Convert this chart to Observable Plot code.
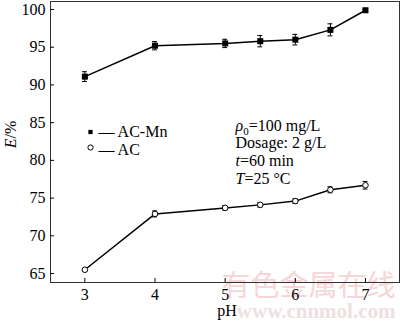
<!DOCTYPE html>
<html><head><meta charset="utf-8">
<script src="https://cdn.jsdelivr.net/npm/d3@7"></script>
<script src="https://cdn.jsdelivr.net/npm/@observablehq/plot@0.6"></script>
<style>body{margin:0;background:#fff} #chart{width:400px;height:324px}</style>
</head><body><div id="chart"></div>
<script>
const ph = [3, 4, 5, 5.5, 6, 6.5, 7];
const eACMn = [91.1, 95.2, 95.5, 95.8, 96.0, 97.3, 99.9];
const errACMn = [0.65, 0.55, 0.55, 0.75, 0.7, 0.8, 0.1];
const eAC = [65.5, 72.9, 73.7, 74.1, 74.6, 76.1, 76.7];
const errAC = [0.15, 0.4, 0.3, 0.3, 0.3, 0.4, 0.5];
const xTicks = [3, 4, 5, 6, 7];
const yTicks = [65, 70, 75, 80, 85, 90, 95, 100];
const seriesNames = ["AC-Mn", "AC"];
const noteLines = [
  [["ρ", "italic"], ["0", "sub"], ["=100 mg/L", ""]],
  [["Dosage: 2 g/L", ""]],
  [["t", "italic"], ["=60 min", ""]],
  [["T", "italic"], ["=25 °C", ""]]
];
const yLabel = [["E", "italic"], ["/%", ""]];
const xLabel = "pH";
const watermark = ["有色金属在线", "www.cnnmol.com"];

const dMn = ph.map((p, i) => ({ph: p, e: eACMn[i], err: errACMn[i]}));
const dAC = ph.map((p, i) => ({ph: p, e: eAC[i], err: errAC[i]}));
const cap = 0.035;

function errMarks(data) {
  return [
    Plot.ruleX(data, {x: "ph", y1: d => d.e - d.err, y2: d => d.e + d.err, stroke: "#000", strokeWidth: 1}),
    Plot.ruleY(data, {y: d => d.e + d.err, x1: d => d.ph - cap, x2: d => d.ph + cap, stroke: "#000", strokeWidth: 1}),
    Plot.ruleY(data, {y: d => d.e - d.err, x1: d => d.ph - cap, x2: d => d.ph + cap, stroke: "#000", strokeWidth: 1})
  ];
}

const noteDy = [129, 146.5, 164.5, 182.5];
const font = "Liberation Serif";

const plot = Plot.plot({
  width: 400, height: 324,
  marginLeft: 50, marginRight: 1, marginTop: 1, marginBottom: 42,
  style: {fontFamily: "Liberation Serif, serif", fontSize: "16px", background: "#fff", color: "#000", overflow: "visible"},
  x: {domain: [2.51, 7.485], label: null},
  y: {domain: [63.81, 101.06], label: null},
  marks: [
    Plot.text([watermark[0]], {frameAnchor: "bottom-right", dx: -4, dy: 4, textAnchor: "end", lineAnchor: "middle",
      fill: "#f6d6d6", fontSize: 29, fontFamily: "Noto Sans CJK SC"}),
    Plot.text([watermark[1]], {frameAnchor: "bottom-right", dx: -4, dy: 35, textAnchor: "end", lineAnchor: "bottom",
      fill: "#eee0e0", fontSize: 21, fontFamily: font, fontWeight: "bold"}),
    Plot.frame({stroke: "#333", strokeWidth: 1}),
    Plot.axisX(xTicks, {anchor: "bottom", tickSize: -4, tickPadding: 10, fontSize: 16, fontFamily: font, stroke: "#000"}),
    Plot.axisY(yTicks, {anchor: "left", tickSize: -4, tickPadding: 9, fontSize: 16, fontFamily: font, stroke: "#000"}),
    Plot.text([xLabel], {frameAnchor: "bottom", dy: 33, lineAnchor: "bottom", fontSize: 16, fontFamily: font, dx: 2}),
    Plot.text([yLabel.map(s => s[0]).join("")], {frameAnchor: "top-left", dx: -40, dy: 133, rotate: -90,
      textAnchor: "middle", lineAnchor: "middle", fontSize: 16, fontFamily: font, className: "ylab"}),
    Plot.line(dMn, {x: "ph", y: "e", stroke: "#000", strokeWidth: 1.5}),
    Plot.line(dAC, {x: "ph", y: "e", stroke: "#000", strokeWidth: 1.5}),
    ...errMarks(dMn),
    ...errMarks(dAC),
    Plot.dot(dMn, {x: "ph", y: "e", symbol: "square", fill: "#000", r: 3.4}),
    Plot.dot(dAC, {x: "ph", y: "e", symbol: "circle", fill: "#fff", stroke: "#000", strokeWidth: 1, r: 2.8}),
    // legend
    Plot.dot([0], {frameAnchor: "top-left", dx: 40, dy: 130.5, symbol: "square", fill: "#000", r: 2.4}),
    Plot.dot([0], {frameAnchor: "top-left", dx: 40, dy: 146, symbol: "circle", fill: "#fff", stroke: "#000", strokeWidth: 1, r: 2.6}),
    Plot.text(["— " + seriesNames[0]], {frameAnchor: "top-left", dx: 48, dy: 135, textAnchor: "start", lineAnchor: "bottom", fontSize: 16, fontFamily: font}),
    Plot.text(["— " + seriesNames[1]], {frameAnchor: "top-left", dx: 48, dy: 153, textAnchor: "start", lineAnchor: "bottom", fontSize: 16, fontFamily: font}),
    ...noteLines.map((segs, i) => Plot.text([segs.map(s => s[0]).join("")], {
      frameAnchor: "top-left", dx: 185, dy: noteDy[i], textAnchor: "start", lineAnchor: "bottom",
      fontSize: 16, fontFamily: font, className: "note" + i}))
  ]
});

function richText(textSel, segs) {
  textSel.text(null);
  let shifted = 0;
  segs.forEach(([t, s]) => {
    const ts = textSel.append("tspan").text(t);
    if (s === "italic") ts.attr("font-style", "italic");
    if (s === "sub") { ts.attr("font-size", "11px").attr("dy", 4); shifted = 4; }
    else if (shifted) { ts.attr("dy", -shifted); shifted = 0; }
  });
}
const svg = d3.select(plot);
noteLines.forEach((segs, i) => richText(svg.select(".note" + i + " text"), segs));
richText(svg.select(".ylab text"), yLabel);

document.getElementById("chart").appendChild(plot);
</script>
</body></html>
